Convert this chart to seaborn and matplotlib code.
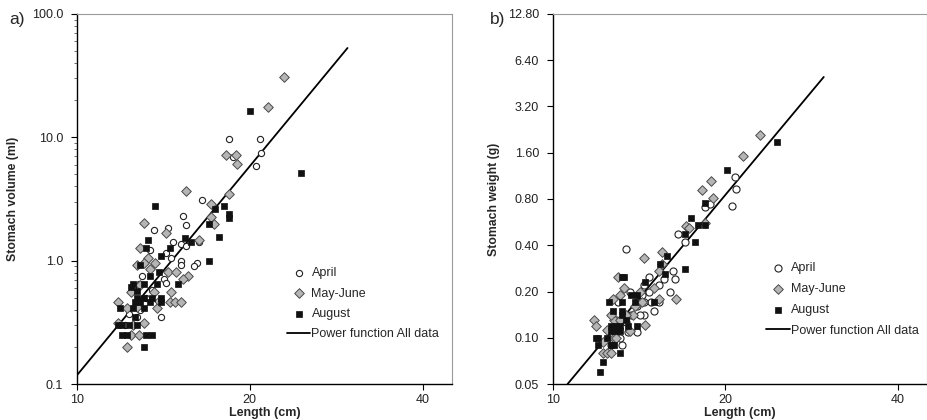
import numpy as np
import pandas as pd
import seaborn as sns
import matplotlib.pyplot as plt
from matplotlib.ticker import FixedLocator, FixedFormatter, NullLocator, LogLocator

# ---- panel a) stomach volume ----
a_april_len = [18.4, 20.8, 18.7, 20.9, 20.5, 16.5, 15.3, 15.5, 13.6, 14.4, 14.7, 15.2, 15.5, 16.3,
               13.4, 14.3, 14.6, 15.2, 15.2, 16.2, 16.0, 13.0, 12.8, 14.2, 14.3, 13.5, 12.5, 12.9,
               12.7, 14.0, 12.1, 12.3, 13.2]
a_april_vol = [9.75, 9.75, 6.92, 7.41, 5.89, 3.13, 2.32, 1.96, 1.78, 1.83, 1.42, 1.36, 1.31, 1.42,
               1.21, 1.15, 1.06, 1.00, 0.92, 0.96, 0.90, 0.75, 0.65, 0.71, 0.66, 0.58, 0.61, 0.40,
               0.35, 0.35, 0.30, 0.37, 0.50]

a_may_len = [22.9, 21.5, 18.2, 18.9, 19.0, 18.4, 15.5, 17.1, 17.1, 17.3, 16.3, 14.3, 13.1, 12.9,
             13.3, 13.1, 12.7, 13.4, 13.7, 14.4, 14.9, 15.6, 15.3, 14.6, 13.6, 12.4, 11.8, 12.2,
             13.8, 14.5, 14.8, 15.2, 11.8, 13.1, 12.4, 12.8, 12.2, 12.5, 12.7, 13.9, 12.9]
a_may_vol = [31.1, 17.7, 7.18, 7.18, 6.10, 3.46, 3.64, 2.90, 2.25, 2.00, 1.48, 1.68, 2.02, 1.27,
             1.06, 0.96, 0.92, 0.86, 0.96, 0.81, 0.81, 0.75, 0.71, 0.56, 0.56, 0.56, 0.46, 0.41,
             0.41, 0.46, 0.46, 0.46, 0.31, 0.31, 0.25, 0.25, 0.20, 0.30, 0.42, 0.47, 0.64]

a_aug_len = [20.0, 24.6, 13.7, 18.0, 17.4, 18.4, 18.4, 17.0, 17.7, 15.4, 15.8, 17.0, 13.3, 13.2,
             14.5, 14.0, 12.9, 13.9, 13.4, 15.0, 12.5, 13.1, 13.8, 12.4, 12.7, 12.7, 13.1, 13.5,
             14.0, 12.6, 12.9, 13.4, 14.0, 11.9, 13.1, 12.5, 12.6, 11.8, 12.0, 12.3, 12.7, 12.0,
             12.2, 13.2, 13.5, 13.1]
a_aug_vol = [16.2, 5.10, 2.75, 2.75, 2.60, 2.40, 2.20, 2.00, 1.57, 1.52, 1.42, 1.00, 1.48, 1.27,
             1.27, 1.09, 0.92, 0.81, 0.75, 0.65, 0.65, 0.65, 0.65, 0.61, 0.57, 0.50, 0.50, 0.50,
             0.50, 0.46, 0.46, 0.46, 0.46, 0.41, 0.41, 0.41, 0.35, 0.30, 0.30, 0.30, 0.30, 0.25,
             0.25, 0.25, 0.25, 0.20]

a_fit_len = [10.0, 29.6]
a_fit_vol = [0.118, 53.0]

# ---- panel b) stomach weight ----
b_april_len = [20.8, 20.9, 20.5, 18.4, 18.8, 16.5, 17.0, 13.4, 16.2, 16.3, 15.6, 14.7, 14.4, 15.3,
               16.0, 13.6, 15.0, 14.4, 14.2, 14.0, 14.0, 14.8, 15.3, 13.0, 13.4, 14.0, 13.5, 13.2,
               12.6, 13.1, 13.7, 14.3, 12.9, 14.4, 14.7]
b_april_wt = [1.12, 0.93, 0.72, 0.71, 0.74, 0.47, 0.42, 0.38, 0.27, 0.24, 0.24, 0.25, 0.22, 0.22,
              0.20, 0.20, 0.15, 0.14, 0.14, 0.16, 0.17, 0.17, 0.17, 0.17, 0.127, 0.109, 0.109, 0.09,
              0.09, 0.10, 0.14, 0.19, 0.13, 0.17, 0.20]

b_may_len = [23.0, 21.5, 18.9, 18.2, 19.0, 17.1, 17.3, 18.4, 15.5, 14.4, 15.3, 15.5, 13.0, 13.3,
             13.1, 12.7, 15.0, 15.3, 16.4, 14.3, 13.8, 14.5, 11.8, 11.9, 12.4, 12.6, 12.8, 12.8,
             13.1, 12.6, 13.4, 13.6, 12.2, 12.4, 12.6, 12.9, 12.2, 13.9, 14.2]
b_may_wt = [2.09, 1.52, 1.05, 0.91, 0.81, 0.53, 0.52, 0.56, 0.36, 0.33, 0.27, 0.30, 0.25, 0.21,
            0.19, 0.18, 0.21, 0.18, 0.18, 0.17, 0.14, 0.121, 0.13, 0.12, 0.112, 0.10, 0.10, 0.13,
            0.13, 0.14, 0.14, 0.11, 0.08, 0.08, 0.08, 0.10, 0.094, 0.16, 0.20]

b_aug_len = [24.6, 20.1, 18.4, 17.4, 17.9, 18.4, 17.0, 17.7, 17.0, 15.8, 15.4, 15.7, 13.2, 14.5,
             13.7, 14.0, 15.0, 12.5, 13.2, 13.9, 12.7, 13.2, 13.2, 13.4, 12.6, 12.9, 13.1, 14.0,
             13.5, 12.9, 13.1, 12.6, 11.9, 12.0, 12.4, 12.0, 12.6, 12.8, 13.1, 12.2, 12.1, 13.3]
b_aug_wt = [1.88, 1.24, 0.75, 0.60, 0.54, 0.54, 0.47, 0.42, 0.28, 0.34, 0.30, 0.26, 0.25, 0.23,
            0.19, 0.19, 0.17, 0.17, 0.17, 0.17, 0.15, 0.15, 0.14, 0.13, 0.12, 0.12, 0.12, 0.12,
            0.12, 0.11, 0.11, 0.11, 0.10, 0.10, 0.10, 0.09, 0.09, 0.09, 0.08, 0.07, 0.06, 0.25]

b_fit_len = [10.6, 29.7]
b_fit_wt = [0.05, 4.98]

a_yticks = [0.1, 1.0, 10.0, 100.0]
b_yticks = [0.05, 0.10, 0.20, 0.40, 0.80, 1.60, 3.20, 6.40, 12.80]
x_ticks = [10, 20, 40]

sns.set_style("ticks")
plt.rcParams['font.family'] = ['Liberation Sans', 'DejaVu Sans']

groups = [
    ("April", dict(marker="o", facecolor="white", edgecolor="#222222", linewidth=0.8)),
    ("May-June", dict(marker="D", facecolor="#b5b5b5", edgecolor="#4a4a4a", linewidth=0.7)),
    ("August", dict(marker="s", facecolor="#111111", edgecolor="#111111", linewidth=0.5)),
]


def draw_panel(ax, series, fit_x, fit_y, sizes, yticks, yfmt, ylabel, letter, minor_y,
               leg_xy, leg_space, ylab_x, letter_x):
    for (name, style), (xs, ys), s in zip(groups, series, sizes):
        df = pd.DataFrame({"x": xs, "y": ys})
        sns.scatterplot(data=df, x="x", y="y", ax=ax, s=s, label=name, zorder=3, **style)
    sns.lineplot(x=fit_x, y=fit_y, ax=ax, color="black", linewidth=1.3,
                 label="Power function All data", zorder=2)

    ax.set_xscale("log")
    ax.set_yscale("log")
    ax.set_xlim(10, 45)
    ax.set_ylim(yticks[0], yticks[-1])

    ax.xaxis.set_major_locator(FixedLocator(x_ticks))
    ax.xaxis.set_major_formatter(FixedFormatter([str(t) for t in x_ticks]))
    ax.xaxis.set_minor_locator(NullLocator())
    ax.yaxis.set_major_locator(FixedLocator(yticks))
    ax.yaxis.set_major_formatter(FixedFormatter([yfmt % t for t in yticks]))
    if minor_y:
        ax.yaxis.set_minor_locator(LogLocator(base=10, subs=np.arange(2, 10)))
    else:
        ax.yaxis.set_minor_locator(NullLocator())

    ax.tick_params(axis="both", which="major", labelsize=9, length=4, width=0.8,
                   direction="out", colors="black", labelcolor="#222222")
    ax.tick_params(axis="x", which="major", pad=3)
    ax.tick_params(axis="y", which="major", pad=6)
    ax.tick_params(axis="y", which="minor", length=2.5, width=0.6, colors="#555555")

    for side in ["left", "bottom"]:
        ax.spines[side].set_color("black")
        ax.spines[side].set_linewidth(1.0)
    for side in ["top", "right"]:
        ax.spines[side].set_visible(True)
        ax.spines[side].set_color("#9a9a9a")
        ax.spines[side].set_linewidth(0.8)

    ax.set_xlabel("Length (cm)", fontsize=9, fontweight="bold", labelpad=1)
    ax.set_ylabel(ylabel, fontsize=8.8, fontweight="bold")
    ax.yaxis.set_label_coords(ylab_x, 0.5)
    ax.text(letter_x, 0.985, letter, transform=ax.transAxes, fontsize=12.5, va="center", ha="left")

    ax.legend(loc="lower left", bbox_to_anchor=leg_xy, frameon=False, fontsize=9,
              handlelength=1.85, handletextpad=0.1, labelspacing=leg_space, borderaxespad=0)


fig = plt.figure(figsize=(9.28, 4.2), dpi=100)
ax1 = fig.add_axes([0.083, 0.0857, 0.404, 0.881])
ax2 = fig.add_axes([0.596, 0.0857, 0.403, 0.881])

draw_panel(ax1,
           [(a_april_len, a_april_vol), (a_may_len, a_may_vol), (a_aug_len, a_aug_vol)],
           a_fit_len, a_fit_vol, [20, 24, 18], a_yticks, "%.1f",
           "Stomach volume (ml)", "a)", True, (0.547, 0.105), 0.66, -0.155, -0.18)

draw_panel(ax2,
           [(b_april_len, b_april_wt), (b_may_len, b_may_wt), (b_aug_len, b_aug_wt)],
           b_fit_len, b_fit_wt, [26, 24, 18], b_yticks, "%.2f",
           "Stomach weight (g)", "b)", False, (0.557, 0.114), 0.72, -0.142, -0.168)

fig.savefig("out.png", dpi=100)
